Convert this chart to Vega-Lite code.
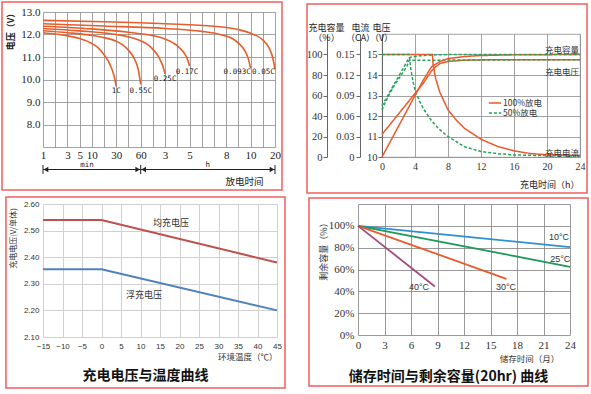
{
  "$schema": "https://vega.github.io/schema/vega-lite/v6.json",
  "background": "white",
  "padding": {"left": 1, "top": 1, "right": 0, "bottom": 0},
  "config": {"view": {"stroke": null}, "font": "Noto Sans CJK SC", "axis": {"tickCount": 100}},
  "datasets": {
    "p1": [
      {"rate": "1C", "pos": 0, "v": 12.08}, {"rate": "1C", "pos": 1, "v": 12.02}, {"rate": "1C", "pos": 2, "v": 11.94}, {"rate": "1C", "pos": 3, "v": 11.82}, {"rate": "1C", "pos": 4, "v": 11.6}, {"rate": "1C", "pos": 4.5, "v": 11.42}, {"rate": "1C", "pos": 5, "v": 11.1}, {"rate": "1C", "pos": 5.5, "v": 10.65}, {"rate": "1C", "pos": 5.8, "v": 10.2}, {"rate": "1C", "pos": 6, "v": 9.7},
      {"rate": "0.55C", "pos": 0, "v": 12.17}, {"rate": "0.55C", "pos": 2, "v": 12.08}, {"rate": "0.55C", "pos": 4, "v": 11.96}, {"rate": "0.55C", "pos": 5, "v": 11.86}, {"rate": "0.55C", "pos": 6, "v": 11.7}, {"rate": "0.55C", "pos": 6.5, "v": 11.55}, {"rate": "0.55C", "pos": 7, "v": 11.3}, {"rate": "0.55C", "pos": 7.5, "v": 10.9}, {"rate": "0.55C", "pos": 7.8, "v": 10.45}, {"rate": "0.55C", "pos": 8, "v": 9.78},
      {"rate": "0.25C", "pos": 0, "v": 12.27}, {"rate": "0.25C", "pos": 3, "v": 12.16}, {"rate": "0.25C", "pos": 6, "v": 12.0}, {"rate": "0.25C", "pos": 7, "v": 11.9}, {"rate": "0.25C", "pos": 8, "v": 11.72}, {"rate": "0.25C", "pos": 8.5, "v": 11.58}, {"rate": "0.25C", "pos": 9, "v": 11.34}, {"rate": "0.25C", "pos": 9.5, "v": 10.98}, {"rate": "0.25C", "pos": 9.8, "v": 10.62}, {"rate": "0.25C", "pos": 10, "v": 10.25},
      {"rate": "0.17C", "pos": 0, "v": 12.37}, {"rate": "0.17C", "pos": 4, "v": 12.25}, {"rate": "0.17C", "pos": 7, "v": 12.1}, {"rate": "0.17C", "pos": 9, "v": 11.95}, {"rate": "0.17C", "pos": 10, "v": 11.8}, {"rate": "0.17C", "pos": 11, "v": 11.5}, {"rate": "0.17C", "pos": 11.5, "v": 11.22}, {"rate": "0.17C", "pos": 11.8, "v": 10.95}, {"rate": "0.17C", "pos": 12, "v": 10.6},
      {"rate": "0.093C", "pos": 0, "v": 12.48}, {"rate": "0.093C", "pos": 5, "v": 12.38}, {"rate": "0.093C", "pos": 10, "v": 12.27}, {"rate": "0.093C", "pos": 13, "v": 12.14}, {"rate": "0.093C", "pos": 14.5, "v": 12.0}, {"rate": "0.093C", "pos": 15.5, "v": 11.82}, {"rate": "0.093C", "pos": 16, "v": 11.62}, {"rate": "0.093C", "pos": 16.5, "v": 11.3}, {"rate": "0.093C", "pos": 16.8, "v": 10.95}, {"rate": "0.093C", "pos": 17, "v": 10.5},
      {"rate": "0.05C", "pos": 0, "v": 12.63}, {"rate": "0.05C", "pos": 5, "v": 12.57}, {"rate": "0.05C", "pos": 10, "v": 12.48}, {"rate": "0.05C", "pos": 14, "v": 12.37}, {"rate": "0.05C", "pos": 16, "v": 12.22}, {"rate": "0.05C", "pos": 17, "v": 12.06}, {"rate": "0.05C", "pos": 18, "v": 11.76}, {"rate": "0.05C", "pos": 18.5, "v": 11.42}, {"rate": "0.05C", "pos": 18.8, "v": 11.0}, {"rate": "0.05C", "pos": 19, "v": 10.45}
    ],
    "p1lab": [
      {"rate": "1C", "pos": 6, "v": 9.5}, {"rate": "0.55C", "pos": 8, "v": 9.5}, {"rate": "0.25C", "pos": 10, "v": 10.03},
      {"rate": "0.17C", "pos": 11.8, "v": 10.33}, {"rate": "0.093C", "pos": 15.9, "v": 10.33}, {"rate": "0.05C", "pos": 18.05, "v": 10.33}
    ],
    "p1arrow": [
      {"seg": "min", "from": 0, "to": 8, "mid": 3.6},
      {"seg": "h", "from": 8, "to": 19, "mid": 13.5}
    ],
    "p1bound": [{"t": 0}, {"t": 8}, {"t": 19}],
    "p2v": [
      {"series": "100%放电", "h": 0, "v": 11.1}, {"series": "100%放电", "h": 1, "v": 11.6}, {"series": "100%放电", "h": 2, "v": 12.1}, {"series": "100%放电", "h": 3, "v": 12.6}, {"series": "100%放电", "h": 4, "v": 13.1}, {"series": "100%放电", "h": 5, "v": 13.6}, {"series": "100%放电", "h": 5.5, "v": 13.9}, {"series": "100%放电", "h": 6, "v": 14.2}, {"series": "100%放电", "h": 6.5, "v": 14.4}, {"series": "100%放电", "h": 7, "v": 14.55}, {"series": "100%放电", "h": 8, "v": 14.66}, {"series": "100%放电", "h": 10, "v": 14.72}, {"series": "100%放电", "h": 12, "v": 14.74}, {"series": "100%放电", "h": 24, "v": 14.75},
      {"series": "50%放电", "h": 0, "v": 12.3}, {"series": "50%放电", "h": 0.5, "v": 12.75}, {"series": "50%放电", "h": 1, "v": 13.15}, {"series": "50%放电", "h": 1.5, "v": 13.5}, {"series": "50%放电", "h": 2, "v": 13.8}, {"series": "50%放电", "h": 2.5, "v": 14.1}, {"series": "50%放电", "h": 3, "v": 14.4}, {"series": "50%放电", "h": 3.3, "v": 14.72}, {"series": "50%放电", "h": 24, "v": 14.75}
    ],
    "p2c": [
      {"series": "100%放电", "h": 0, "ca": 0.15}, {"series": "100%放电", "h": 6.1, "ca": 0.15}, {"series": "100%放电", "h": 6.2, "ca": 0.135}, {"series": "100%放电", "h": 6.5, "ca": 0.115}, {"series": "100%放电", "h": 7, "ca": 0.095}, {"series": "100%放电", "h": 8, "ca": 0.069}, {"series": "100%放电", "h": 9, "ca": 0.054}, {"series": "100%放电", "h": 10, "ca": 0.042}, {"series": "100%放电", "h": 12, "ca": 0.026}, {"series": "100%放电", "h": 14, "ca": 0.0155}, {"series": "100%放电", "h": 16, "ca": 0.009}, {"series": "100%放电", "h": 18, "ca": 0.005}, {"series": "100%放电", "h": 20, "ca": 0.0034}, {"series": "100%放电", "h": 24, "ca": 0.0024},
      {"series": "50%放电", "h": 0, "ca": 0.15}, {"series": "50%放电", "h": 3.3, "ca": 0.15}, {"series": "50%放电", "h": 3.5, "ca": 0.128}, {"series": "50%放电", "h": 3.8, "ca": 0.108}, {"series": "50%放电", "h": 4, "ca": 0.098}, {"series": "50%放电", "h": 4.5, "ca": 0.083}, {"series": "50%放电", "h": 5, "ca": 0.071}, {"series": "50%放电", "h": 6, "ca": 0.053}, {"series": "50%放电", "h": 7, "ca": 0.04}, {"series": "50%放电", "h": 8, "ca": 0.03}, {"series": "50%放电", "h": 10, "ca": 0.015}, {"series": "50%放电", "h": 12, "ca": 0.008}, {"series": "50%放电", "h": 14, "ca": 0.005}, {"series": "50%放电", "h": 16, "ca": 0.003}, {"series": "50%放电", "h": 20, "ca": 0.002}, {"series": "50%放电", "h": 24, "ca": 0.0015}
    ],
    "p2q": [
      {"series": "100%放电", "h": 0, "pct": 0}, {"series": "100%放电", "h": 1, "pct": 15}, {"series": "100%放电", "h": 2, "pct": 30}, {"series": "100%放电", "h": 3, "pct": 45}, {"series": "100%放电", "h": 4, "pct": 60}, {"series": "100%放电", "h": 5, "pct": 75}, {"series": "100%放电", "h": 6, "pct": 88}, {"series": "100%放电", "h": 7, "pct": 93}, {"series": "100%放电", "h": 8, "pct": 96}, {"series": "100%放电", "h": 10, "pct": 98}, {"series": "100%放电", "h": 12, "pct": 99}, {"series": "100%放电", "h": 16, "pct": 99.7}, {"series": "100%放电", "h": 24, "pct": 100},
      {"series": "50%放电", "h": 0, "pct": 50}, {"series": "50%放电", "h": 3.3, "pct": 97}, {"series": "50%放电", "h": 4, "pct": 98}, {"series": "50%放电", "h": 5, "pct": 99}, {"series": "50%放电", "h": 6, "pct": 99.5}, {"series": "50%放电", "h": 8, "pct": 100}, {"series": "50%放电", "h": 24, "pct": 100}
    ],
    "p2lab": [
      {"lab": "充电容量", "h": 24, "v": 15.2},
      {"lab": "充电电压", "h": 24, "v": 14.15},
      {"lab": "充电电流", "h": 24, "v": 10.2}
    ],
    "p3": [
      {"kind": "均充电压", "t": -15, "u": 2.54}, {"kind": "均充电压", "t": 0, "u": 2.54}, {"kind": "均充电压", "t": 45, "u": 2.38},
      {"kind": "浮充电压", "t": -15, "u": 2.355}, {"kind": "浮充电压", "t": 0, "u": 2.355}, {"kind": "浮充电压", "t": 45, "u": 2.2}
    ],
    "p3lab": [
      {"kind": "均充电压", "t": 17.8, "u": 2.529},
      {"kind": "浮充电压", "t": 10.9, "u": 2.258}
    ],
    "p4": [
      {"temp": "10°C", "m": 0, "r": 100}, {"temp": "10°C", "m": 24, "r": 80.5},
      {"temp": "25°C", "m": 0, "r": 100}, {"temp": "25°C", "m": 24, "r": 62.5},
      {"temp": "30°C", "m": 0, "r": 100}, {"temp": "30°C", "m": 16.8, "r": 51.5},
      {"temp": "40°C", "m": 0, "r": 100}, {"temp": "40°C", "m": 8.7, "r": 44.5}
    ],
    "p4lab": [
      {"temp": "10°C", "m": 22.75, "r": 90}, {"temp": "25°C", "m": 22.9, "r": 69.8},
      {"temp": "30°C", "m": 16.75, "r": 44}, {"temp": "40°C", "m": 6.9, "r": 44}
    ]
  },
  "resolve": {"scale": {"color": "independent", "strokeDash": "independent"}, "legend": {"color": "independent", "strokeDash": "independent"}},
  "spacing": 1,
  "vconcat": [
    {
      "spacing": 22,
      "resolve": {"scale": {"color": "independent", "strokeDash": "independent"}, "legend": {"color": "independent", "strokeDash": "independent"}},
      "hconcat": [
        {
          "width": 232, "height": 135,
          "layer": [
            {
              "data": {"values": [{}]},
              "mark": {"type": "rect", "filled": false, "color": "#f25c5c", "strokeWidth": 1.5},
              "encoding": {
                "x": {"datum": -3.358, "type": "quantitative", "scale": {"domain": [0, 19]}},
                "x2": {"datum": 19.573},
                "y": {"datum": 13.444, "type": "quantitative", "scale": {"domain": [7, 13]}},
                "y2": {"datum": 5.089}
              }
            },
            {
              "data": {"name": "p1"},
              "mark": {"type": "line", "color": "#e85d2a", "strokeWidth": 1.6, "interpolate": "monotone"},
              "encoding": {
                "x": {"field": "pos", "type": "quantitative", "scale": {"domain": [0, 19]},
                  "axis": {"values": [0,1,2,3,4,5,6,7,8,9,10,11,12,13,14,15,16,17,18,19],
                    "labelExpr": "['1','','3','5','10','','30','','60','','3','','5','','','8','','10','','20'][datum.value]",
                    "grid": true, "gridColor": "#8c8c8c", "gridWidth": 0.8, "domain": false, "ticks": false,
                    "labelFont": "Liberation Serif", "labelFontSize": 11, "labelColor": "#222", "labelPadding": 2,
                    "labelFlush": false, "labelOverlap": false,
                    "title": "放电时间", "titleFontSize": 9.5, "titleFontWeight": "normal", "titleColor": "#222",
                    "titleX": 220, "titleY": 34, "titleAlign": "right", "titleBaseline": "middle"}},
                "y": {"field": "v", "type": "quantitative", "scale": {"domain": [7, 13]},
                  "axis": {"values": [7,8,9,10,11,12,13],
                    "labelExpr": "datum.value == 7 ? '' : format(datum.value, '.1f')",
                    "grid": true, "gridColor": "#8c8c8c", "gridWidth": 0.8, "domain": false, "ticks": false,
                    "labelFont": "Liberation Serif", "labelFontSize": 11, "labelColor": "#222", "labelPadding": 3,
                    "labelOverlap": false,
                    "title": "电压（V）", "titleFontSize": 9, "titleFontWeight": "bold", "titleColor": "#222",
                    "titleX": -33, "titleY": 17, "titleAngle": 270, "titleAlign": "center", "titleBaseline": "middle"}},
                "detail": {"field": "rate"}
              }
            },
            {
              "data": {"name": "p1lab"},
              "mark": {"type": "text", "font": "DejaVu Sans Mono", "fontSize": 7.5, "color": "#222"},
              "encoding": {
                "x": {"field": "pos", "type": "quantitative", "scale": {"domain": [0, 19]}},
                "y": {"field": "v", "type": "quantitative", "scale": {"domain": [7, 13]}},
                "text": {"field": "rate"}
              }
            },
            {
              "data": {"name": "p1arrow"},
              "mark": {"type": "rule", "color": "#222", "strokeWidth": 1},
              "encoding": {
                "x": {"field": "from", "type": "quantitative", "scale": {"domain": [0, 19]}},
                "x2": {"field": "to"},
                "y": {"datum": 6.0, "type": "quantitative", "scale": {"domain": [7, 13]}}
              }
            },
            {
              "data": {"name": "p1arrow"},
              "mark": {"type": "point", "shape": "triangle-left", "filled": true, "color": "#222", "size": 28, "xOffset": 3, "opacity": 1},
              "encoding": {
                "x": {"field": "from", "type": "quantitative", "scale": {"domain": [0, 19]}},
                "y": {"datum": 6.0, "type": "quantitative", "scale": {"domain": [7, 13]}}
              }
            },
            {
              "data": {"name": "p1arrow"},
              "mark": {"type": "point", "shape": "triangle-right", "filled": true, "color": "#222", "size": 28, "xOffset": -3, "opacity": 1},
              "encoding": {
                "x": {"field": "to", "type": "quantitative", "scale": {"domain": [0, 19]}},
                "y": {"datum": 6.0, "type": "quantitative", "scale": {"domain": [7, 13]}}
              }
            },
            {
              "data": {"name": "p1bound"},
              "mark": {"type": "rule", "color": "#222", "strokeWidth": 1},
              "encoding": {
                "x": {"field": "t", "type": "quantitative", "scale": {"domain": [0, 19]}},
                "y": {"datum": 5.8, "type": "quantitative", "scale": {"domain": [7, 13]}},
                "y2": {"datum": 6.2}
              }
            },
            {
              "data": {"name": "p1arrow"},
              "mark": {"type": "text", "font": "DejaVu Sans Mono", "fontSize": 7.5, "color": "#222", "dy": -5},
              "encoding": {
                "x": {"field": "mid", "type": "quantitative", "scale": {"domain": [0, 19]}},
                "y": {"datum": 6.0, "type": "quantitative", "scale": {"domain": [7, 13]}},
                "text": {"field": "seg"}
              }
            }
          ]
        },
        {
          "spacing": -11,
          "resolve": {"scale": {"color": "independent", "strokeDash": "independent"}, "legend": {"color": "independent", "strokeDash": "independent"}},
          "vconcat": [
            {
              "width": 1, "height": 1,
              "data": {"values": []},
              "mark": {"type": "point", "opacity": 0},
              "encoding": {}
            },
            {
              "width": 198, "height": 123,
              "view": {"stroke": "#8c8c8c", "strokeWidth": 0.8},
              "layer": [
                {
                  "data": {"name": "p2v"},
                  "mark": {"type": "line", "strokeWidth": 1.5},
                  "encoding": {
                    "x": {"field": "h", "type": "quantitative", "scale": {"domain": [0, 24]},
                      "axis": {"values": [0,4,8,12,16,20,24], "format": "d", "grid": true, "gridColor": "#8c8c8c", "gridWidth": 0.8,
                        "domain": false, "ticks": false, "labelFont": "Liberation Serif", "labelFontSize": 10, "labelColor": "#333",
                        "labelPadding": 4, "labelFlush": false, "labelOverlap": false,
                        "title": "充电时间（h）", "titleFontSize": 9, "titleFontWeight": "normal", "titleColor": "#222",
                        "titleX": 197, "titleY": 27, "titleAlign": "right", "titleBaseline": "middle"}},
                    "y": {"field": "v", "type": "quantitative", "scale": {"domain": [10, 16]},
                      "axis": {"orient": "left", "values": [10,11,12,13,14,15], "format": "d", "grid": true, "gridColor": "#8c8c8c", "gridWidth": 0.8,
                        "domain": true, "domainColor": "#666", "ticks": true, "tickSize": 4, "tickColor": "#666",
                        "labelFont": "Liberation Serif", "labelFontSize": 10.5, "labelColor": "#333", "labelPadding": 1, "labelOverlap": false,
                        "title": ["电压", "（V）"], "titleAngle": 0, "titleX": -1, "titleY": -2, "titleAlign": "center", "titleBaseline": "bottom",
                        "titleFontSize": 9, "titleFontWeight": "normal", "titleLineHeight": 10, "titleColor": "#222"}},
                    "color": {"field": "series", "type": "nominal", "scale": {"domain": ["100%放电", "50%放电"], "range": ["#ea5a2a", "#25a256"]},
                      "legend": {"orient": "none", "legendX": 106, "legendY": 64, "title": null, "symbolType": "stroke", "symbolSize": 150,
                        "symbolStrokeWidth": 1.6, "labelFontSize": 8.5, "labelColor": "#333", "rowPadding": 0, "clipHeight": 10, "labelOffset": 1, "padding": 0}},
                    "strokeDash": {"field": "series", "type": "nominal", "scale": {"domain": ["100%放电", "50%放电"], "range": [[1, 0], [3, 2]]},
                      "legend": {"orient": "none", "legendX": 106, "legendY": 64, "title": null, "symbolType": "stroke", "symbolSize": 150,
                        "symbolStrokeWidth": 1.6, "labelFontSize": 8.5, "labelColor": "#333", "rowPadding": 0, "clipHeight": 10, "labelOffset": 1, "padding": 0}}
                  }
                },
                {
                  "data": {"name": "p2c"},
                  "mark": {"type": "line", "strokeWidth": 1.5},
                  "encoding": {
                    "x": {"field": "h", "type": "quantitative", "scale": {"domain": [0, 24]}},
                    "y": {"field": "ca", "type": "quantitative", "scale": {"domain": [0, 0.18]},
                      "axis": {"orient": "left", "offset": 22, "values": [0, 0.03, 0.06, 0.09, 0.12, 0.15],
                        "labelExpr": "datum.value == 0 ? '0' : format(datum.value, '.2f')",
                        "grid": false, "domain": true, "domainColor": "#666", "ticks": true, "tickSize": 4, "tickColor": "#666",
                        "labelFont": "Liberation Serif", "labelFontSize": 10.5, "labelColor": "#333", "labelPadding": 2, "labelOverlap": false,
                        "title": ["电流", "（CA）"], "titleAngle": 0, "titleX": 0, "titleY": -2, "titleAlign": "center", "titleBaseline": "bottom",
                        "titleFontSize": 9, "titleFontWeight": "normal", "titleLineHeight": 10, "titleColor": "#222"}},
                    "color": {"field": "series", "type": "nominal", "scale": {"domain": ["100%放电", "50%放电"], "range": ["#ea5a2a", "#25a256"]}},
                    "strokeDash": {"field": "series", "type": "nominal", "scale": {"domain": ["100%放电", "50%放电"], "range": [[1, 0], [3, 2]]}}
                  }
                },
                {
                  "data": {"name": "p2q"},
                  "mark": {"type": "line", "strokeWidth": 1.5},
                  "encoding": {
                    "x": {"field": "h", "type": "quantitative", "scale": {"domain": [0, 24]}},
                    "y": {"field": "pct", "type": "quantitative", "scale": {"domain": [0, 120]},
                      "axis": {"orient": "left", "offset": 55, "values": [0, 20, 40, 60, 80, 100], "format": "d",
                        "grid": false, "domain": true, "domainColor": "#666", "ticks": true, "tickSize": 4, "tickColor": "#666",
                        "labelFont": "Liberation Serif", "labelFontSize": 10.5, "labelColor": "#333", "labelPadding": 1, "labelOverlap": false,
                        "title": ["充电容量", "（%）"], "titleAngle": 0, "titleX": -1, "titleY": -2, "titleAlign": "center", "titleBaseline": "bottom",
                        "titleFontSize": 9, "titleFontWeight": "normal", "titleLineHeight": 10, "titleColor": "#222"}},
                    "color": {"field": "series", "type": "nominal", "scale": {"domain": ["100%放电", "50%放电"], "range": ["#ea5a2a", "#25a256"]}},
                    "strokeDash": {"field": "series", "type": "nominal", "scale": {"domain": ["100%放电", "50%放电"], "range": [[1, 0], [3, 2]]}}
                  }
                },
                {
                  "data": {"name": "p2lab"},
                  "mark": {"type": "text", "fontSize": 8.5, "color": "#333", "align": "right", "dx": -1},
                  "encoding": {
                    "x": {"field": "h", "type": "quantitative", "scale": {"domain": [0, 24]}},
                    "y": {"field": "v", "type": "quantitative", "scale": {"domain": [10, 16]}, "axis": null},
                    "text": {"field": "lab"}
                  }
                },
                {
                  "data": {"values": [{}]},
                  "mark": {"type": "rect", "filled": false, "color": "#f25c5c", "strokeWidth": 1.5},
                  "encoding": {
                    "x": {"datum": -9.09, "type": "quantitative", "scale": {"domain": [0, 24]}},
                    "x2": {"datum": 24.85},
                    "y": {"datum": 17.46, "type": "quantitative", "scale": {"domain": [10, 16]}, "axis": null},
                    "y2": {"datum": 8.244}
                  }
                }
              ],
              "resolve": {"scale": {"y": "independent"}}
            }
          ]
        }
      ]
    },
    {
      "spacing": 22,
      "resolve": {"scale": {"color": "independent", "strokeDash": "independent"}, "legend": {"color": "independent", "strokeDash": "independent"}},
      "hconcat": [
        {
          "width": 234, "height": 133,
          "title": {"text": "充电电压与温度曲线", "orient": "bottom", "frame": "bounds", "anchor": "middle", "fontSize": 14, "fontWeight": "bold", "color": "#111", "offset": -20},
          "layer": [
            {
              "data": {"values": [{}]},
              "mark": {"type": "rect", "filled": false, "color": "#f25c5c", "strokeWidth": 1.5},
              "encoding": {
                "x": {"datum": -24.5, "type": "quantitative", "scale": {"domain": [-15, 45]}},
                "x2": {"datum": 47.05},
                "y": {"datum": 2.626, "type": "quantitative", "scale": {"domain": [2.1, 2.6]}},
                "y2": {"datum": 1.908}
              }
            },
            {
              "data": {"name": "p3"},
              "mark": {"type": "line", "strokeWidth": 2},
              "encoding": {
                "x": {"field": "t", "type": "quantitative", "scale": {"domain": [-15, 45]},
                  "axis": {"values": [-15,-10,-5,0,5,10,15,20,25,30,35,40,45], "format": "d", "grid": true, "gridColor": "#d0d0d0", "gridWidth": 1,
                    "domain": false, "ticks": false, "labelFont": "Liberation Sans", "labelFontSize": 8, "labelColor": "#333",
                    "labelPadding": 5, "labelFlush": false, "labelOverlap": false,
                    "title": "环境温度（℃）", "titleFontSize": 8.5, "titleFontWeight": "normal", "titleColor": "#333",
                    "titleX": 234, "titleY": 19, "titleAlign": "right", "titleBaseline": "middle"}},
                "y": {"field": "u", "type": "quantitative", "scale": {"domain": [2.1, 2.6]},
                  "axis": {"values": [2.1, 2.2, 2.3, 2.4, 2.5, 2.6], "format": ".2f", "grid": true, "gridColor": "#d0d0d0", "gridWidth": 1,
                    "domain": false, "ticks": false, "labelFont": "Liberation Sans", "labelFontSize": 8, "labelColor": "#333",
                    "labelPadding": 4, "labelOverlap": false,
                    "title": "充电电压(V/单体)", "titleFontSize": 8, "titleFontWeight": "normal", "titleColor": "#333",
                    "titleX": -30, "titleY": 34, "titleAngle": 270, "titleAlign": "center", "titleBaseline": "middle"}},
                "color": {"field": "kind", "type": "nominal", "scale": {"domain": ["均充电压", "浮充电压"], "range": ["#c0504d", "#4f81bd"]}, "legend": null}
              }
            },
            {
              "data": {"name": "p3lab"},
              "mark": {"type": "text", "fontSize": 9, "color": "#333"},
              "encoding": {
                "x": {"field": "t", "type": "quantitative", "scale": {"domain": [-15, 45]}},
                "y": {"field": "u", "type": "quantitative", "scale": {"domain": [2.1, 2.6]}},
                "text": {"field": "kind"}
              }
            }
          ]
        },
        {
          "width": 212, "height": 131,
          "title": {"text": "储存时间与剩余容量(20hr) 曲线", "orient": "bottom", "frame": "bounds", "anchor": "middle", "fontSize": 14, "fontWeight": "bold", "color": "#111", "offset": -17},
          "layer": [
            {
              "data": {"values": [{}]},
              "mark": {"type": "rect", "filled": false, "color": "#f25c5c", "strokeWidth": 1.5},
              "encoding": {
                "x": {"datum": -5.547, "type": "quantitative", "scale": {"domain": [0, 24]}},
                "x2": {"datum": 26.04},
                "y": {"datum": 125.5, "type": "quantitative", "scale": {"domain": [0, 120]}},
                "y2": {"datum": -46.72}
              }
            },
            {
              "data": {"name": "p4"},
              "mark": {"type": "line", "strokeWidth": 1.8},
              "encoding": {
                "x": {"field": "m", "type": "quantitative", "scale": {"domain": [0, 24]},
                  "axis": {"values": [0,3,6,9,12,15,18,21,24], "format": "d", "grid": true, "gridColor": "#808080", "gridWidth": 0.8,
                    "domain": false, "ticks": false, "labelFont": "Liberation Serif", "labelFontSize": 11, "labelColor": "#333",
                    "labelPadding": 4, "labelFlush": false, "labelOverlap": false,
                    "title": "储存时间（月）", "titleFontSize": 8.5, "titleFontWeight": "normal", "titleColor": "#333",
                    "titleX": 171, "titleY": 23, "titleAlign": "center", "titleBaseline": "middle"}},
                "y": {"field": "r", "type": "quantitative", "scale": {"domain": [0, 120]},
                  "axis": {"values": [0,20,40,60,80,100,120], "labelExpr": "datum.value > 100 ? '' : datum.value + '%'",
                    "grid": true, "gridColor": "#808080", "gridWidth": 0.8,
                    "domain": false, "ticks": false, "labelFont": "Liberation Serif", "labelFontSize": 11, "labelColor": "#333",
                    "labelPadding": 4, "labelOverlap": false,
                    "title": "剩余容量（%）", "titleFontSize": 9, "titleFontWeight": "normal", "titleColor": "#333",
                    "titleX": -35, "titleY": 45, "titleAngle": 270, "titleAlign": "center", "titleBaseline": "middle"}},
                "color": {"field": "temp", "type": "nominal", "scale": {"domain": ["10°C", "25°C", "30°C", "40°C"], "range": ["#2f8fd5", "#1d9a5b", "#ea5a2a", "#a44a80"]}, "legend": null}
              }
            },
            {
              "data": {"name": "p4lab"},
              "mark": {"type": "text", "fontSize": 9, "font": "Liberation Sans", "color": "#333"},
              "encoding": {
                "x": {"field": "m", "type": "quantitative", "scale": {"domain": [0, 24]}},
                "y": {"field": "r", "type": "quantitative", "scale": {"domain": [0, 120]}},
                "text": {"field": "temp"}
              }
            }
          ]
        }
      ]
    }
  ]
}
